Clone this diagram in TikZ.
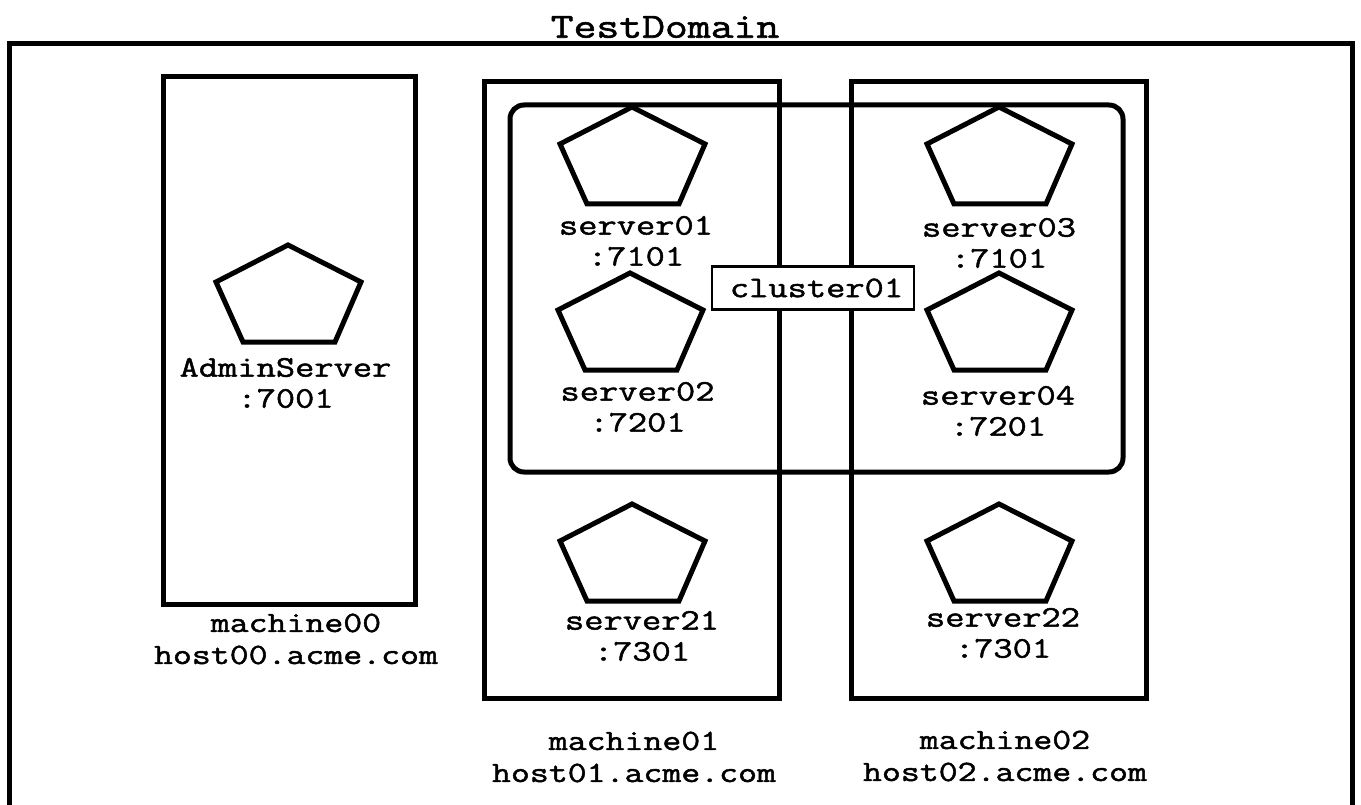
\documentclass[tikz,border=0pt]{standalone}
\usepackage{fontspec}
\setmonofont[FakeStretch=1.25,FakeBold=1.6]{Latin Modern Mono}
\newcommand{\pentagonat}[3]{%
  \coordinate (#1) at (#2,#3);
  \draw[shapeline] (#1) -- ++(73,37) -- ++(-26,60) -- ++(-92,0) -- ++(-27,-60) -- cycle;}
\tikzset{
  x=1pt,y=-1pt,
  shapeline/.style={line width=5pt,line join=miter,draw=black},
  label/.style={font=\ttfamily\fontsize{29.4}{30}\selectfont,text=black,inner sep=0pt,align=center},
  srv/.style={label,font=\ttfamily\fontsize{29.9}{30}\selectfont},
  title/.style={label,font=\ttfamily\fontsize{35.5}{36}\selectfont},
}
\begin{document}
\begin{tikzpicture}
\useasboundingbox (0,0) rectangle (1361,805);
\fill[white] (0,0) rectangle (1361,805);
\draw[shapeline] (9,815) -- (9,44) -- (1352,44) -- (1352,815);
\draw[shapeline] (163,77) rectangle (415,604);
\draw[shapeline] (484,82) rectangle (779,698);
\draw[shapeline] (851,82) rectangle (1146,698);
\draw[shapeline,rounded corners=14pt] (510,105) rectangle (1123,472);
\pentagonat{padmin}{288}{245}
\pentagonat{p01}{632}{107}
\pentagonat{p02}{630}{273}
\pentagonat{p03}{999}{107}
\pentagonat{p04}{999}{273}
\pentagonat{p21}{632}{504}
\pentagonat{p22}{999}{504}
\node[draw=black,line width=2.5pt,fill=white,minimum width=202pt,minimum height=43pt,inner sep=0pt] (cl) at (813,288) {};
\node[srv] (cltext) at (816.5,288) {cluster01};
\node[title] (dom) at (665,27) {TestDomain};
\node[srv] (adm) at (285.5,383) {AdminServer\\[1pt]:7001};
\node[srv] (s01) at (636,241) {server01\\[1pt]:7101};
\node[srv] (s02) at (637.5,407) {server02\\[1pt]:7201};
\node[srv] (s03) at (999,243) {server03\\[1pt]:7101};
\node[srv] (s04) at (998,411) {server04\\[1pt]:7201};
\node[srv] (s21) at (642,636) {server21\\[1pt]:7301};
\node[srv] (s22) at (1003,633) {server22\\[1pt]:7301};
\node[label] (m00) at (296,639) {machine00\\[2pt]host00.acme.com};
\node[label] (m01) at (634,757) {machine01\\[2pt]host01.acme.com};
\node[label] (m02) at (1005,756) {machine02\\[2pt]host02.acme.com};
\end{tikzpicture}
\end{document}
